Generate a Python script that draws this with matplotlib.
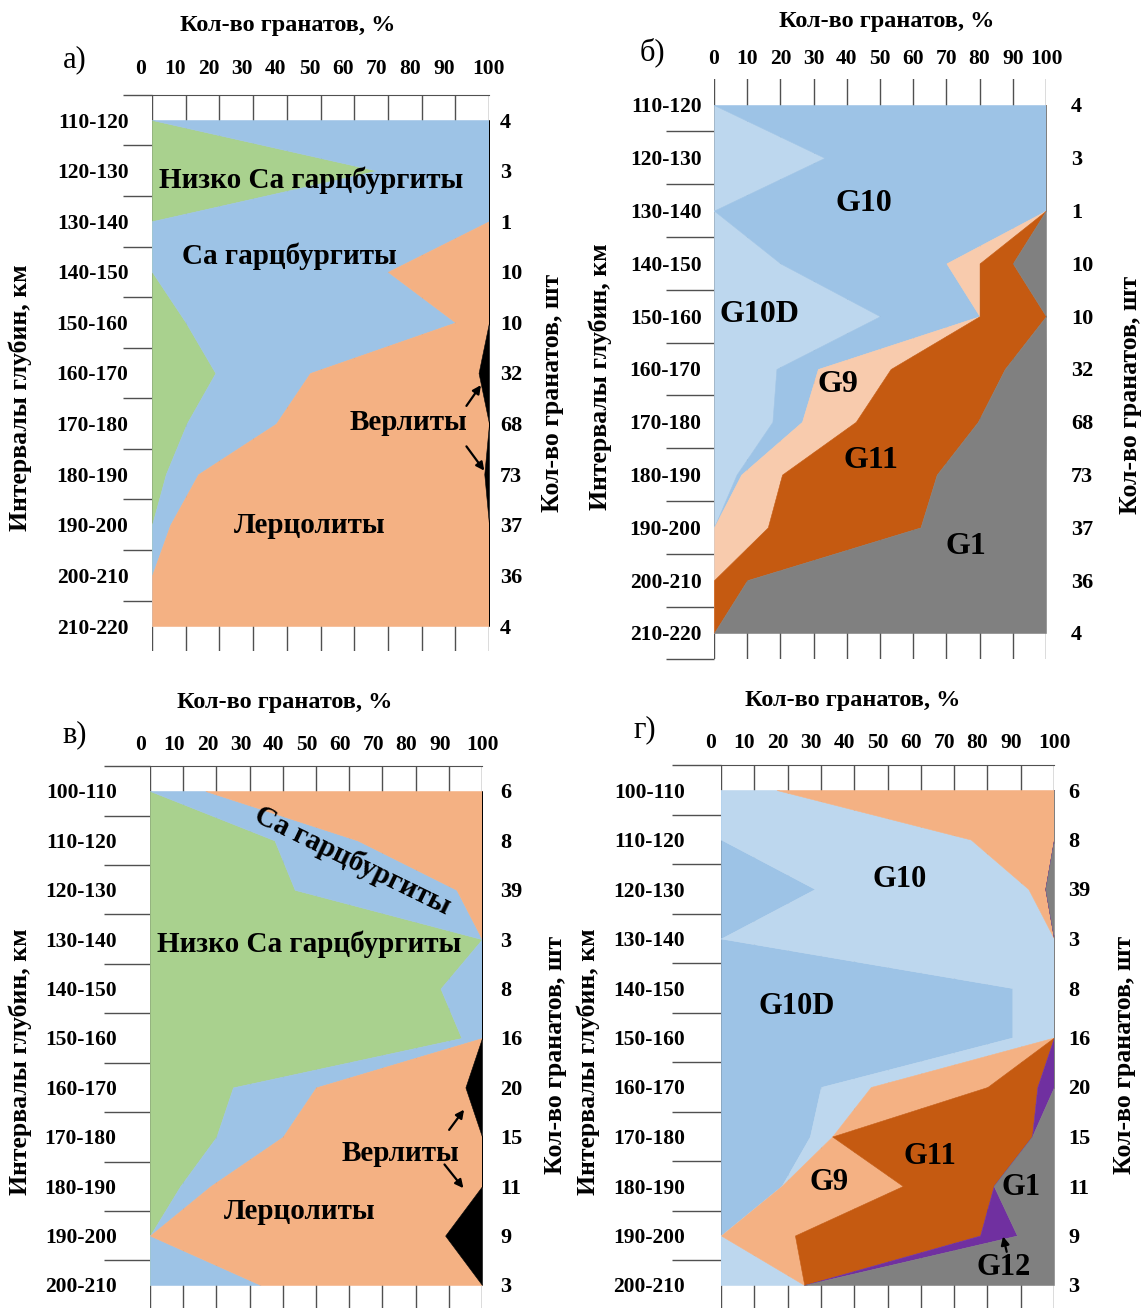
import numpy as np
import matplotlib.pyplot as plt
from matplotlib.transforms import ScaledTranslation

plt.rcParams['font.family'] = ['Liberation Serif', 'DejaVu Serif']
plt.rcParams['font.weight'] = 'bold'
plt.rcParams['axes.labelweight'] = 'bold'

W, H = 1144, 1308

GREEN = '#A9D18E'
BLUE = '#9DC3E6'
LIGHT_BLUE = '#BDD7EE'
ORANGE = '#F4B183'
PEACH = '#F8CBAD'
RUST = '#C55A11'
GREY = '#808080'
PURPLE = '#7030A0'
BLACK = '#000000'

# а) and б): depth intervals 110-220 km
depth_ab = ['110-120', '120-130', '130-140', '140-150', '150-160', '160-170',
            '170-180', '180-190', '190-200', '200-210', '210-220']
count_ab = [4, 3, 1, 10, 10, 32, 68, 73, 37, 36, 4]

low_ca_harz_a = [0, 66.7, 0, 0, 10, 18.8, 10.3, 4.1, 0, 0, 0]
ca_harz_a = [100, 33.3, 100, 70, 80, 28.1, 26.5, 9.6, 5.4, 0, 0]
lherz_a = [0, 0, 0, 30, 10, 50, 63.2, 84.9, 94.6, 100, 100]
wehr_a = [0, 0, 0, 0, 0, 3.1, 0, 1.4, 0, 0, 0]

g10d_b = [0, 33.3, 0, 20, 50, 18.8, 17.6, 6.8, 0, 0, 0]
g10_b = [100, 66.7, 100, 50, 30, 12.5, 8.9, 1.4, 0, 0, 0]
g9_b = [0, 0, 0, 10, 0, 21.9, 16.2, 12.3, 16.2, 0, 0]
g11_b = [0, 0, 0, 10, 20, 34.4, 36.8, 46.6, 46.0, 10, 0]
g1_b = [0, 0, 0, 10, 0, 12.5, 20.6, 32.9, 37.8, 90, 100]

# в) and г): depth intervals 100-210 km
depth_vg = ['100-110', '110-120', '120-130', '130-140', '140-150', '150-160',
            '160-170', '170-180', '180-190', '190-200', '200-210']
count_vg = [6, 8, 39, 3, 8, 16, 20, 15, 11, 9, 3]

low_ca_harz_v = [0, 37.5, 43.6, 100, 87.5, 93.8, 25, 20, 9.1, 0, 0]
ca_harz_v = [16.7, 25, 48.7, 0, 12.5, 6.2, 25, 20, 9.1, 0, 33.3]
lherz_v = [83.3, 37.5, 7.7, 0, 0, 0, 45, 60, 81.8, 88.9, 66.7]
wehr_v = [0, 0, 0, 0, 0, 0, 5, 0, 0, 11.1, 0]

g10d_g = [0, 0, 28.2, 0, 87.5, 87.5, 30, 26.7, 18.2, 0, 0]
g10_g = [16.7, 75, 64.1, 100, 12.5, 12.5, 15, 6.7, 0, 0, 25]
g9_g = [83.3, 25, 5.1, 0, 0, 0, 35, 0, 36.4, 22.2, 0]
g11_g = [0, 0, 0, 0, 0, 0, 15, 60, 27.3, 55.6, 0]
g12_g = [0, 0, 0, 0, 0, 0, 5, 0, 0, 11.1, 0]
g1_g = [0, 0, 2.6, 0, 0, 0, 0, 6.6, 18.1, 11.1, 75]

pct_ticks = list(range(0, 101, 10))


def to_axes(rect, x, y):
    l, t, r, b = rect
    return (x - l) / (r - l), (b - y) / (b - t)


def panel(fig, rect, depths, counts, layers, colors, cfg):
    l, t, r, b = rect
    ax = fig.add_axes([l / W, 1 - b / H, (r - l) / W, (b - t) / H])
    rows = np.arange(len(depths))

    # stacked areas, left to right
    left = np.zeros(len(rows))
    for vals, c in zip(layers, colors):
        right = left + np.array(vals)
        ax.fill_betweenx(rows, left, right, color=c, lw=0.4, ec=c, zorder=2)
        left = right

    ax.set_xlim(0, 100)
    ax.set_ylim(len(rows) - 0.5, -0.5)
    ax.set_axisbelow(True)
    ax.grid(axis='x', color='#505050', lw=1.0)
    for s in ax.spines.values():
        s.set_visible(False)
    if cfg['top_line']:
        ax.spines['top'].set_visible(True)
        ax.spines['top'].set_color('#505050')

    # percent scale on top
    ax.xaxis.tick_top()
    ax.set_xticks(pct_ticks)
    ax.set_xticklabels([str(v) for v in pct_ticks], fontsize=15.5)
    ax.tick_params(axis='x', length=0, pad=cfg['xpad'])
    for tk in ax.xaxis.get_major_ticks()[:-1]:
        tk.label2.set_transform(tk.label2.get_transform()
                                + ScaledTranslation(cfg['xshift'] / 100, 0, fig.dpi_scale_trans))

    # category boundaries as long outward ticks, depth labels between them
    ax.set_yticks(cfg['bounds'])
    ax.set_yticklabels([])
    ax.tick_params(axis='y', which='major', direction='out', length=cfg['ticklen'] * 0.72,
                   width=1.0, color='#505050')
    ax.set_yticks(rows, minor=True)
    ax.set_yticklabels(depths, minor=True, fontsize=15.5)
    ax.tick_params(axis='y', which='minor', length=0, pad=cfg['ypad'])

    # garnet counts on the right
    ax2 = ax.twinx()
    ax2.set_ylim(ax.get_ylim())
    for s in ax2.spines.values():
        s.set_visible(False)
    ax2.set_yticks(rows)
    ax2.set_yticklabels([str(c) for c in counts], fontsize=16)
    ax2.tick_params(axis='y', length=0, pad=cfg['rpad'])

    ax.xaxis.set_label_position('top')
    ax.set_xlabel('Кол-во гранатов, %', fontsize=17.5)
    ax.xaxis.set_label_coords(*to_axes(rect, *cfg['title_xy']))
    ax.xaxis.label.set_va('center')

    ax.set_ylabel('Интервалы глубин, км', fontsize=18.5)
    ax.yaxis.set_label_coords(*to_axes(rect, *cfg['ylab_xy']))
    ax.yaxis.label.set_va('center')

    ax2.set_ylabel('Кол-во гранатов, шт', fontsize=18.5)
    ax2.yaxis.set_label_coords(*to_axes(rect, *cfg['rlab_xy']))
    ax2.yaxis.label.set_va('center')

    for txt, x, y, rot in cfg['names']:
        ax.text(x, y, txt, fontsize=cfg['name_size'], ha='center', va='center',
                rotation=rot, rotation_mode='anchor', zorder=5)
    for tail, tip in cfg['arrows']:
        ax.annotate('', xy=tip, xytext=tail, zorder=6,
                    arrowprops=dict(arrowstyle='-|>', color='black', lw=1.6,
                                    mutation_scale=12, shrinkA=0, shrinkB=0))

    lx, ly = cfg['letter_xy']
    fig.text(lx / W, 1 - ly / H, cfg['letter'], fontsize=22, fontweight='normal',
             ha='center', va='center')
    return ax


fig = plt.figure(figsize=(W / 100, H / 100), dpi=100)

panel(fig, (152, 94.7, 489, 651.3), depth_ab, count_ab,
      [low_ca_harz_a, ca_harz_a, lherz_a, wehr_a], [GREEN, BLUE, ORANGE, BLACK],
      dict(top_line=True, xpad=11, xshift=-11, bounds=np.arange(-0.5, 10, 1.0), ticklen=29,
           ypad=17, rpad=8, title_xy=(288, 25), ylab_xy=(20, 398), rlab_xy=(553, 393),
           letter='а)', letter_xy=(75, 60), name_size=21,
           names=[('Низко Са гарцбургиты', 47.3, 1.19, 0), ('Са гарцбургиты', 40.7, 2.7, 0),
                  ('Верлиты', 76, 5.98, 0), ('Лерцолиты', 46.7, 8.02, 0)],
           arrows=[((93.3, 5.65), (97.6, 5.24)), ((93.3, 6.45), (98.6, 6.93))]))

panel(fig, (714, 78.6, 1046, 659.4), depth_ab, count_ab,
      [g10d_b, g10_b, g9_b, g11_b, g1_b], [LIGHT_BLUE, BLUE, PEACH, RUST, GREY],
      dict(top_line=False, xpad=7, xshift=0, bounds=np.arange(0.5, 11, 1.0), ticklen=48,
           ypad=9, rpad=18, title_xy=(887, 22), ylab_xy=(600, 377), rlab_xy=(1130, 395),
           letter='б)', letter_xy=(652, 52), name_size=23,
           names=[('G10', 45, 1.86, 0), ('G10D', 13.8, 3.97, 0), ('G9', 37.4, 5.3, 0),
                  ('G11', 47.2, 6.73, 0), ('G1', 75.9, 8.36, 0)],
           arrows=[]))

panel(fig, (150, 766.3, 482, 1309.7), depth_vg, count_vg,
      [low_ca_harz_v, ca_harz_v, lherz_v, wehr_v], [GREEN, BLUE, ORANGE, BLACK],
      dict(top_line=True, xpad=8, xshift=-9, bounds=np.arange(-0.5, 10, 1.0), ticklen=46,
           ypad=24, rpad=13, title_xy=(285, 703), ylab_xy=(20, 1062), rlab_xy=(555, 1055),
           letter='в)', letter_xy=(75, 735), name_size=21,
           names=[('Са гарцбургиты', 61, 1.41, -26), ('Низко Са гарцбургиты', 47.8, 3.1, 0),
                  ('Верлиты', 75.4, 7.33, 0), ('Лерцолиты', 45, 8.52, 0)],
           arrows=[((90.1, 6.86), (94.6, 6.45)), ((88.7, 7.56), (94.4, 8.04))]))

panel(fig, (721, 765.25, 1054, 1309.75), depth_vg, count_vg,
      [g10d_g, g10_g, g9_g, g11_g, g12_g, g1_g],
      [BLUE, LIGHT_BLUE, ORANGE, RUST, PURPLE, GREY],
      dict(top_line=True, xpad=9, xshift=-10, bounds=np.arange(-0.5, 10, 1.0), ticklen=49,
           ypad=26, rpad=10, title_xy=(853, 700), ylab_xy=(588, 1062), rlab_xy=(1125, 1055),
           letter='г)', letter_xy=(645, 730), name_size=22,
           names=[('G10', 53.6, 1.81, 0), ('G10D', 22.7, 4.38, 0), ('G11', 62.8, 7.4, 0),
                  ('G9', 32.5, 7.93, 0), ('G1', 90, 8.03, 0), ('G12', 85, 9.65, 0)],
           arrows=[((85.8, 9.33), (84.7, 9.02))]))

fig.savefig('out.png', dpi=100)
